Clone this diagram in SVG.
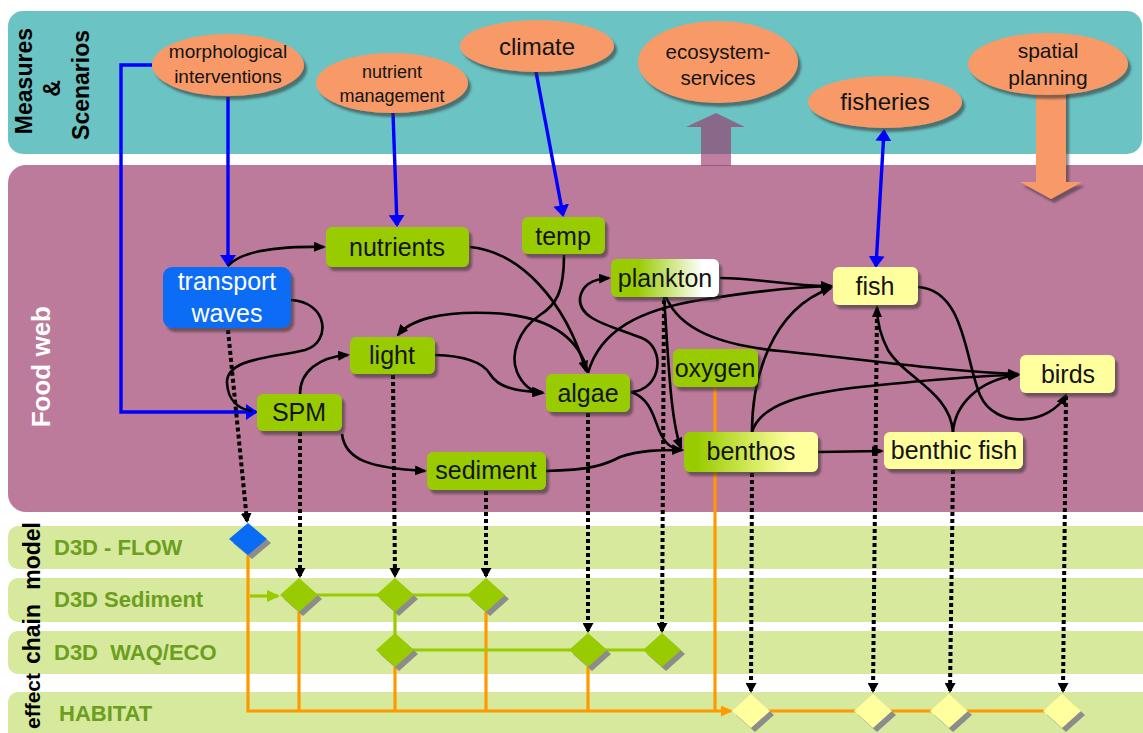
<svg xmlns="http://www.w3.org/2000/svg" width="1143" height="733" viewBox="0 0 1143 733">
<style>
.t{font-family:"Liberation Sans",Arial,sans-serif;text-anchor:middle;fill:#141414}
.n{font-size:25px}
.lbl{font-family:"Liberation Sans",Arial,sans-serif;font-weight:bold;font-size:22px;fill:#6c9e20}
.side{font-family:"Liberation Sans",Arial,sans-serif;font-weight:bold;font-size:23px;fill:#000;text-anchor:end}
.k{fill:none;stroke:#000;stroke-width:2.6}
.b{fill:none;stroke:#0000ff;stroke-width:3.4}
.d{fill:none;stroke:#000;stroke-width:4;stroke-dasharray:4 3}
.o{fill:none;stroke:#ff9900;stroke-width:3.2}
.g{fill:none;stroke:#99cc00;stroke-width:3.2}
.gn{fill:#99cc00}
.yn{fill:#ffff9e}
.el{fill:#f89a68}
.dsh{fill:#8c8c8c}
</style>
<defs>
<filter id="sh" x="-20%" y="-20%" width="150%" height="160%"><feDropShadow dx="3" dy="4" stdDeviation="1.2" flood-color="#333" flood-opacity="0.55"/></filter>
<linearGradient id="gpl" x1="0" y1="0" x2="1" y2="0"><stop offset="0.25" stop-color="#99cc00"/><stop offset="0.85" stop-color="#ffffff"/></linearGradient>
<linearGradient id="gbe" x1="0" y1="0" x2="1" y2="0"><stop offset="0.1" stop-color="#99cc00"/><stop offset="0.8" stop-color="#ffff9e"/></linearGradient>
<marker id="ah" viewBox="0 0 12 10" refX="10" refY="5" markerWidth="12" markerHeight="10" markerUnits="userSpaceOnUse" orient="auto"><path d="M0,0 L12,5 L0,10 z" fill="#000"/></marker>
<marker id="ab" viewBox="0 0 12 16" refX="10" refY="8" markerWidth="12" markerHeight="16" markerUnits="userSpaceOnUse" orient="auto-start-reverse"><path d="M0,0 L12,8 L0,16 z" fill="#0000ff"/></marker>
<marker id="ad" viewBox="0 0 10 11" refX="8" refY="5.5" markerWidth="10" markerHeight="11" markerUnits="userSpaceOnUse" orient="auto"><path d="M0,0 L10,5.5 L0,11 z" fill="#000"/></marker>
<marker id="ag" viewBox="0 0 13 12" refX="11" refY="6" markerWidth="13" markerHeight="12" markerUnits="userSpaceOnUse" orient="auto"><path d="M0,0 L13,6 L0,12 z" fill="#99cc00"/></marker>
<marker id="ao" viewBox="0 0 12 11" refX="10" refY="5.5" markerWidth="12" markerHeight="11" markerUnits="userSpaceOnUse" orient="auto"><path d="M0,0 L12,5.5 L0,11 z" fill="#ff9900"/></marker>
</defs>

<g id="bands">
<rect x="8" y="11" width="1134" height="143" rx="15" fill="#6bc3c3"/>
<rect x="8" y="165" width="1160" height="347" rx="18" fill="#bd7b9b"/>
<rect x="8" y="526" width="1160" height="43" rx="10" fill="#d6e99c"/>
<rect x="8" y="578" width="1160" height="44" rx="10" fill="#d6e99c"/>
<rect x="8" y="631" width="1160" height="43" rx="10" fill="#d6e99c"/>
<rect x="8" y="692" width="1160" height="60" rx="10" fill="#d6e99c"/>
</g>

<g id="band-labels">
<text class="side" transform="translate(32,28) rotate(-90)">Measures</text>
<text class="side" transform="translate(60,80) rotate(-90)">&amp;</text>
<text class="side" transform="translate(89,30) rotate(-90)">Scenarios</text>
<text class="side" style="fill:#fff;font-size:26px" transform="translate(50,306) rotate(-90)">Food web</text>
<text class="side" transform="translate(40,522) rotate(-90)">model</text>
<text class="side" transform="translate(40,604) rotate(-90)">chain</text>
<text class="side" style="font-size:21px" transform="translate(40,673) rotate(-90)">effect</text>
<text class="lbl" x="54" y="555">D3D - FLOW</text>
<text class="lbl" x="54" y="607">D3D Sediment</text>
<text class="lbl" x="54" y="660" xml:space="preserve">D3D  WAQ/ECO</text>
<text class="lbl" x="59" y="721">HABITAT</text>
</g>

<g id="block-arrows">
<polygon points="686,127 716,113 745,127 731,127 731,166 701,166 701,127" fill="#9b3568" fill-opacity="0.63"/>
<polygon points="1036,90 1066,90 1066,182 1082,182 1051,199 1020,182 1036,182" fill="#f89a68" filter="url(#sh)"/>
</g>

<g id="connectors">
<path class="b" d="M152,65 L121,65 L121,412 L256,412" marker-end="url(#ab)"/>
<path class="b" d="M228,97 L228,265" marker-end="url(#ab)"/>
<path class="b" d="M393,113 L397,225" marker-end="url(#ab)"/>
<path class="b" d="M536,72 L563,215" marker-end="url(#ab)"/>
<path class="b" d="M876,266 L884,131" marker-start="url(#ab)" marker-end="url(#ab)"/>

<path class="k" d="M228,266 C240,252 275,246 324,247" marker-end="url(#ah)"/>
<path class="k" d="M291,300 C328,302 332,342 305,350 C272,358 226,358 227,383 C228,400 238,409 252,411"/>
<path class="k" d="M300,394 C300,372 318,357 348,355" marker-end="url(#ah)"/>
<path class="k" d="M435,355 C470,356 484,364 490,374 C498,388 518,392 542,392" marker-end="url(#ah)"/>
<path class="k" d="M588,372 C578,335 545,315 490,313 C440,311 410,320 398,335" marker-end="url(#ah)"/>
<path class="k" d="M470,247 C520,252 565,300 586,371" marker-end="url(#ah)"/>
<path class="k" d="M564,255 C564,292 556,305 540,315 C518,330 510,355 517,372 C523,386 532,392 543,393" marker-end="url(#ah)"/>
<path class="k" d="M631,392 C662,390 666,348 642,338 C612,326 578,320 580,298 C582,285 592,279 609,278" marker-end="url(#ah)"/>
<path class="k" d="M631,392 C650,398 654,418 659,430 C664,442 670,449 682,450" marker-end="url(#ah)"/>
<path class="k" d="M664,297 C668,350 670,420 681,448" marker-end="url(#ah)"/>
<path class="k" d="M588,373 C600,330 640,310 700,300 C750,292 795,287 831,286" marker-end="url(#ah)"/>
<path class="k" d="M720,278 C760,278 785,286 831,286" marker-end="url(#ah)"/>
<path class="k" d="M666,297 C680,330 720,345 780,351 C870,360 950,372 1018,374" marker-end="url(#ah)"/>
<path class="k" d="M752,432 C752,380 770,310 831,288" marker-end="url(#ah)"/>
<path class="k" d="M752,432 C760,405 800,392 880,385 C950,378 990,375 1018,375" marker-end="url(#ah)"/>
<path class="k" d="M818,452 L882,451" marker-end="url(#ah)"/>
<path class="k" d="M953,432 C950,392 905,378 888,350 C879,333 877,320 877,307" marker-end="url(#ah)"/>
<path class="k" d="M953,432 C955,405 978,380 1018,375" marker-end="url(#ah)"/>
<path class="k" d="M918,287 C965,290 965,360 980,395 C995,430 1050,425 1066,395" marker-end="url(#ah)"/>
<path class="k" d="M546,471 C590,470 605,465 620,457 C640,450 660,450 682,450" marker-end="url(#ah)"/>
<path class="k" d="M342,434 C345,460 370,468 425,471" marker-end="url(#ah)"/>

<path class="d" d="M228,330 L247,521" marker-end="url(#ad)"/>
<path class="d" d="M300,432 L300,576" marker-end="url(#ad)"/>
<path class="d" d="M393,375 L395,576" marker-end="url(#ad)"/>
<path class="d" d="M486,491 L486,576" marker-end="url(#ad)"/>
<path class="d" d="M588,413 L588,631" marker-end="url(#ad)"/>
<path class="d" d="M664,300 L662,631" marker-end="url(#ad)"/>
<path class="d" d="M752,473 L751,691" marker-end="url(#ad)"/>
<path class="d" d="M877,312 L873,691" marker-end="url(#ad)"/>
<path class="d" d="M953,470 L950,691" marker-end="url(#ad)"/>
<path class="d" d="M1066,396 L1063,691" marker-end="url(#ad)"/>

<path class="o" d="M248,555 L248,711 L731,711" marker-end="url(#ao)"/>
<path class="o" d="M299,612 L299,711 M395,667 L395,711 M486,612 L486,711 M588,667 L588,711"/>
<path class="o" d="M715,387 L715,711"/>
<path class="o" d="M751,711 L1062,711"/>
<path class="g" d="M250,596 L278,596" marker-end="url(#ag)"/>
<path class="g" d="M299,595 L486,595 M395,595 L395,650 M395,650 L662,650"/>
</g>

<g id="morphological-interventions">
<ellipse cx="228" cy="65" rx="76" ry="31" class="el" filter="url(#sh)"/>
<text class="t" x="228" y="58" font-size="19">morphological</text>
<text class="t" x="228" y="83" font-size="19">interventions</text>
</g>
<g id="nutrient-management">
<ellipse cx="392" cy="83" rx="76" ry="30" class="el" filter="url(#sh)"/>
<text class="t" x="392" y="78" font-size="18">nutrient</text>
<text class="t" x="392" y="102" font-size="18">management</text>
</g>
<g id="climate">
<ellipse cx="537" cy="46" rx="77" ry="26" class="el" filter="url(#sh)"/>
<text class="t" x="537" y="55" font-size="24">climate</text>
</g>
<g id="ecosystem-services">
<ellipse cx="718" cy="62" rx="80" ry="41" class="el" filter="url(#sh)"/>
<text class="t" x="718" y="59" font-size="20.5">ecosystem-</text>
<text class="t" x="718" y="85" font-size="20.5">services</text>
</g>
<g id="fisheries">
<ellipse cx="885" cy="102" rx="77" ry="26" class="el" filter="url(#sh)"/>
<text class="t" x="885" y="110" font-size="24">fisheries</text>
</g>
<g id="spatial-planning">
<ellipse cx="1048" cy="64" rx="80" ry="31" class="el" filter="url(#sh)"/>
<text class="t" x="1048" y="58" font-size="21">spatial</text>
<text class="t" x="1048" y="85" font-size="21">planning</text>
</g>

<g id="transport-waves">
<rect x="163" y="267" width="128" height="61" rx="9" fill="#0a6cf5" filter="url(#sh)"/>
<text class="t n" x="227" y="290" style="fill:#fff">transport</text>
<text class="t n" x="227" y="322" style="fill:#fff">waves</text>
</g>
<g id="nutrients"><rect x="326" y="227" width="143" height="40" rx="6" class="gn" filter="url(#sh)"/><text class="t n" x="397" y="256">nutrients</text></g>
<g id="temp"><rect x="522" y="217" width="83" height="37" rx="6" class="gn" filter="url(#sh)"/><text class="t n" x="563" y="245">temp</text></g>
<g id="plankton"><rect x="611" y="259" width="108" height="38" rx="6" fill="url(#gpl)" filter="url(#sh)"/><text class="t n" x="665" y="287">plankton</text></g>
<g id="light"><rect x="350" y="337" width="85" height="37" rx="6" class="gn" filter="url(#sh)"/><text class="t n" x="392" y="364">light</text></g>
<g id="SPM"><rect x="257" y="394" width="85" height="37" rx="6" class="gn" filter="url(#sh)"/><text class="t n" x="299" y="421">SPM</text></g>
<g id="algae"><rect x="546" y="374" width="84" height="38" rx="6" class="gn" filter="url(#sh)"/><text class="t n" x="588" y="402">algae</text></g>
<g id="sediment"><rect x="427" y="452" width="119" height="38" rx="6" class="gn" filter="url(#sh)"/><text class="t n" x="486" y="479">sediment</text></g>
<g id="oxygen"><rect x="673" y="349" width="85" height="38" rx="6" class="gn" filter="url(#sh)"/><text class="t n" x="715" y="377">oxygen</text></g>
<g id="benthos"><rect x="684" y="432" width="134" height="40" rx="6" fill="url(#gbe)" filter="url(#sh)"/><text class="t n" x="751" y="460">benthos</text></g>
<g id="fish"><rect x="833" y="267" width="85" height="38" rx="6" class="yn" filter="url(#sh)"/><text class="t n" x="875" y="295">fish</text></g>
<g id="birds"><rect x="1020" y="355" width="95" height="38" rx="6" class="yn" filter="url(#sh)"/><text class="t n" x="1068" y="383">birds</text></g>
<g id="benthic-fish"><rect x="884" y="432" width="139" height="37" rx="6" class="yn" filter="url(#sh)"/><text class="t n" x="954" y="459">benthic fish</text></g>

<g id="flow-diamond"><polygon class="dsh" points="252,527 271,543 252,559 233,543"/><polygon points="248,523 267,539 248,555 229,539" fill="#0a6cf5"/></g>
<g id="sed-diamond-1"><polygon class="dsh" points="303,582 322,599 303,616 284,599"/><polygon class="gn" points="299,578 318,595 299,612 280,595"/></g>
<g id="sed-diamond-2"><polygon class="dsh" points="399,582 418,599 399,616 380,599"/><polygon class="gn" points="395,578 414,595 395,612 376,595"/></g>
<g id="sed-diamond-3"><polygon class="dsh" points="490,582 509,599 490,616 471,599"/><polygon class="gn" points="486,578 505,595 486,612 467,595"/></g>
<g id="waq-diamond-1"><polygon class="dsh" points="399,637 418,654 399,671 380,654"/><polygon class="gn" points="395,633 414,650 395,667 376,650"/></g>
<g id="waq-diamond-2"><polygon class="dsh" points="592,637 611,654 592,671 573,654"/><polygon class="gn" points="588,633 607,650 588,667 569,650"/></g>
<g id="waq-diamond-3"><polygon class="dsh" points="666,637 685,654 666,671 647,654"/><polygon class="gn" points="662,633 681,650 662,667 643,650"/></g>
<g id="hab-diamond-1"><polygon class="dsh" points="755,698 774,715 755,732 736,715"/><polygon class="yn" points="751,694 770,711 751,728 732,711"/></g>
<g id="hab-diamond-2"><polygon class="dsh" points="877,698 896,715 877,732 858,715"/><polygon class="yn" points="873,694 892,711 873,728 854,711"/></g>
<g id="hab-diamond-3"><polygon class="dsh" points="953,698 972,715 953,732 934,715"/><polygon class="yn" points="949,694 968,711 949,728 930,711"/></g>
<g id="hab-diamond-4"><polygon class="dsh" points="1066,698 1085,715 1066,732 1047,715"/><polygon class="yn" points="1062,694 1081,711 1062,728 1043,711"/></g>
</svg>
